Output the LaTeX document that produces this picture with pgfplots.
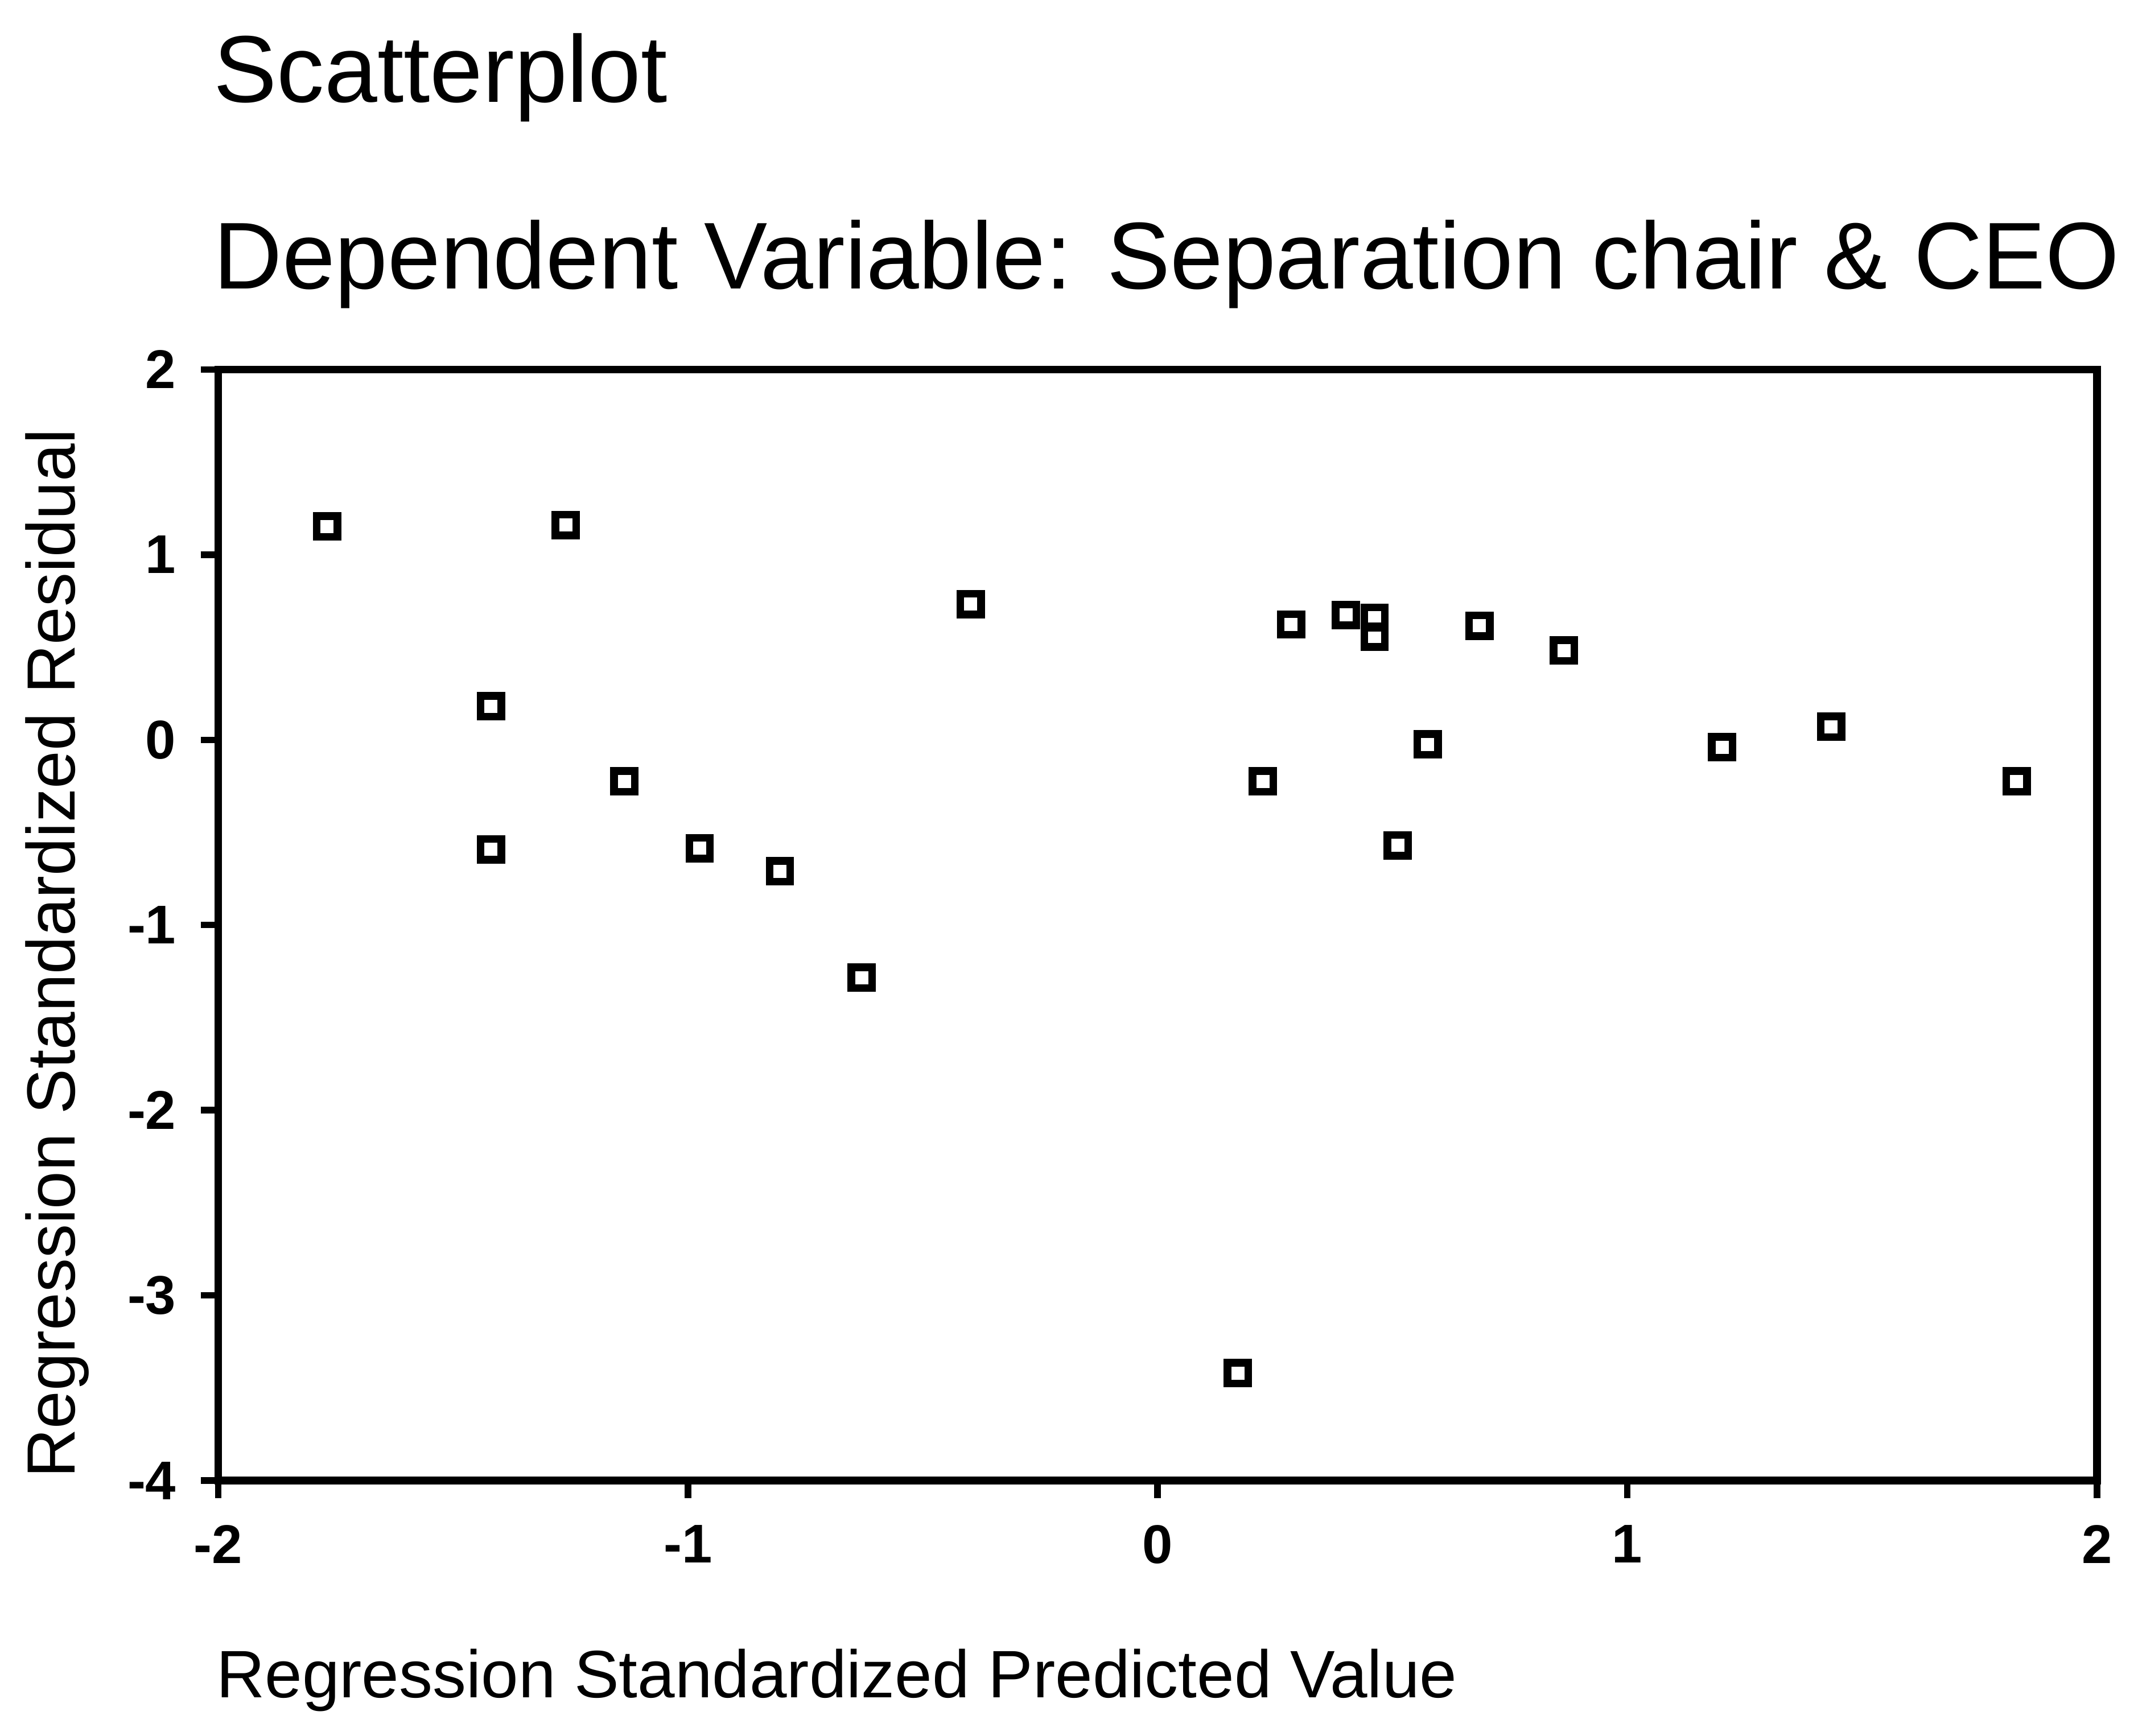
\documentclass[border=0pt]{standalone}
\usepackage{pgfplots}
\pgfplotsset{compat=1.18}
\usepackage{fontspec}
\setmainfont{Liberation Sans}
\begin{document}
\begin{tikzpicture}
\path[use as bounding box] (0pt,0pt) rectangle (392pt,318.25pt);
\begin{axis}[
  at={(40pt,46.75pt)}, anchor=south west,
  scale only axis, width=344.5pt, height=203.75pt,
  xmin=-2, xmax=2, ymin=-4, ymax=2,
  xtick={-2,-1,0,1,2}, xticklabels={-2,-1,0,1,2},
  ytick={-4,-3,-2,-1,0,1,2}, yticklabels={-4,-3,-2,-1,0,1,2},
  xtick pos=bottom, ytick pos=left,
  tick align=outside, major tick length=3.2pt,
  axis line style={line width=1.4pt},
  every tick/.style={black, line width=1.2pt},
  tick label style={font=\bfseries\fontsize{10}{12}\selectfont},
  xticklabel style={yshift=-1.5pt},
  yticklabel style={xshift=-1pt},
  clip=false,
]
\addplot[only marks, mark=square, mark size=1.9pt, line width=1.4pt, black] coordinates {
(-1.768,1.153)
(-1.260,1.160)
(-1.419,0.181)
(-1.419,-0.592)
(-1.135,-0.224)
(-0.975,-0.585)
(-0.804,-0.710)
(-0.630,-1.284)
(-0.398,0.733)
(0.171,-3.420)
(0.224,-0.224)
(0.284,0.623)
(0.401,0.674)
(0.462,0.660)
(0.462,0.557)
(0.511,-0.570)
(0.575,-0.025)
(0.685,0.616)
(0.865,0.483)
(1.202,-0.040)
(1.434,0.071)
(1.829,-0.224)
};
\end{axis}
\node[anchor=base west, inner sep=0pt, font=\fontsize{17.4}{20}\selectfont] at (39pt,299.5pt) {Scatterplot};
\node[anchor=base west, inner sep=0pt, font=\fontsize{17.4}{20}\selectfont] at (39pt,265.25pt) {Dependent Variable: Separation chair \& CEO};
\node[anchor=base west, inner sep=0pt, font=\fontsize{12.3}{14}\selectfont] at (39.5pt,7pt) {Regression Standardized Predicted Value};
\node[anchor=base west, inner sep=0pt, rotate=90, font=\fontsize{12.5}{14}\selectfont] at (13.75pt,47pt) {Regression Standardized Residual};
\end{tikzpicture}
\end{document}
